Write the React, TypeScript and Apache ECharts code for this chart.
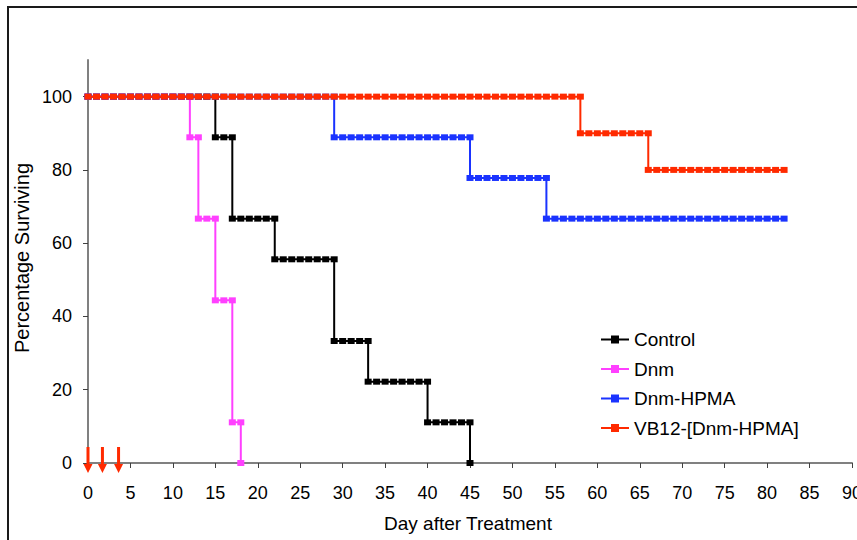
import React, { useEffect, useRef } from "react";
import * as echarts from "echarts";

// Kaplan-Meier steps: [day, percentage surviving]; last day of follow-up separately
const controlSteps: [number, number][] = [[0, 100], [15, 88.9], [17, 66.7], [22, 55.6], [29, 33.3], [33, 22.2], [40, 11.1], [45, 0]];
const controlEnd = 45;
const dnmSteps: [number, number][] = [[0, 100], [12, 88.9], [13, 66.7], [15, 44.4], [17, 11.1], [18, 0]];
const dnmEnd = 18;
const hpmaSteps: [number, number][] = [[0, 100], [29, 88.9], [45, 77.8], [54, 66.7]];
const hpmaEnd = 82;
const vb12Steps: [number, number][] = [[0, 100], [58, 90], [66, 80]];
const vb12End = 82;

const seriesNames = ["Control", "Dnm", "Dnm-HPMA", "VB12-[Dnm-HPMA]"];
const seriesColors = ["#000000", "#ff40ff", "#1a33ff", "#ff2a00"];
const treatmentDays = [0, 1.7, 3.6];
const yTicks = [0, 20, 40, 60, 80, 100];

// daily observation points along the step curve (constant between events)
function daily(steps: [number, number][], end: number): [number, number][] {
  const out: [number, number][] = [];
  steps.forEach(([d, v], i) => {
    const next = i + 1 < steps.length ? steps[i + 1][0] : end;
    for (let day = d; day <= next; day++) out.push([day, v]);
  });
  return out;
}

const FONT = "Liberation Sans, Arial, sans-serif";

export default function App() {
  const ref = useRef<HTMLDivElement>(null);
  useEffect(() => {
    if (!ref.current) return;
    const chart = echarts.init(ref.current, null, { renderer: "svg" });
    const allData = [
      daily(controlSteps, controlEnd),
      daily(dnmSteps, dnmEnd),
      daily(hpmaSteps, hpmaEnd),
      daily(vb12Steps, vb12End),
    ];
    const arrowPath = "path://M3,0 L6,0 L6,17 L9,17 L4.5,26 L0,17 L3,17 Z";
    chart.setOption({
      animation: false,
      backgroundColor: "#ffffff",
      grid: { left: 88, right: 5, top: 60, bottom: 77, containLabel: false, outerBoundsMode: "none" },
      xAxis: {
        type: "value",
        min: 0,
        max: 90,
        interval: 5,
        axisLine: { show: true, lineStyle: { color: "#808080", width: 2 } },
        axisTick: { show: true, inside: false, length: 5, lineStyle: { color: "#404040", width: 1 } },
        axisLabel: { color: "#000", fontSize: 18, fontFamily: FONT, margin: 21 },
        splitLine: { show: false },
      },
      yAxis: {
        type: "value",
        min: 0,
        max: 110,
        axisLine: { show: true, lineStyle: { color: "#808080", width: 2 } },
        axisTick: { show: true, inside: false, length: 5, customValues: yTicks, lineStyle: { color: "#404040", width: 1 } },
        axisLabel: { color: "#000", fontSize: 18, fontFamily: FONT, margin: 16, customValues: yTicks },
        splitLine: { show: false },
      },
      legend: {
        data: seriesNames,
        orient: "vertical",
        left: 595,
        top: 325,
        padding: 5,
        itemWidth: 28,
        itemHeight: 10,
        itemGap: 10.5,
        textStyle: { color: "#000", fontSize: 19, fontFamily: FONT, lineHeight: 19 },
      },
      graphic: [
        {
          type: "rect",
          shape: { x: 8, y: 7, width: 1200, height: 1000 },
          style: { fill: "none", stroke: "#1a1a1a", lineWidth: 2 },
          silent: true,
        },
        {
          type: "text",
          x: 22,
          y: 258,
          rotation: Math.PI / 2,
          style: { text: "Percentage Surviving", align: "center", verticalAlign: "middle", font: `20px ${FONT}`, fill: "#000" },
        },
        {
          type: "text",
          x: 468,
          y: 523,
          style: { text: "Day after Treatment", align: "center", verticalAlign: "middle", font: `19px ${FONT}`, fill: "#000" },
        },
      ],
      series: [
        ...allData.map((d, i) => ({
          name: seriesNames[i],
          type: "line",
          data: d,
          symbol: "rect",
          symbolSize: [7, 6],
          showAllSymbol: true,
          color: seriesColors[i],
          itemStyle: { color: seriesColors[i] },
          lineStyle: { color: seriesColors[i], width: 2 },
          clip: false,
          z: 2 + i,
        })),
        {
          name: "treatment",
          type: "scatter",
          data: treatmentDays.map((d) => [d, 0]),
          symbol: arrowPath,
          symbolSize: [9, 26],
          symbolOffset: [0, -3],
          itemStyle: { color: "#ff2a00", opacity: 1 },
          clip: false,
          z: 10,
        },
      ],
    });
    return () => chart.dispose();
  }, []);
  return <div ref={ref} style={{ position: "absolute", left: 0, top: 0, width: 857, height: 540 }} />;
}
